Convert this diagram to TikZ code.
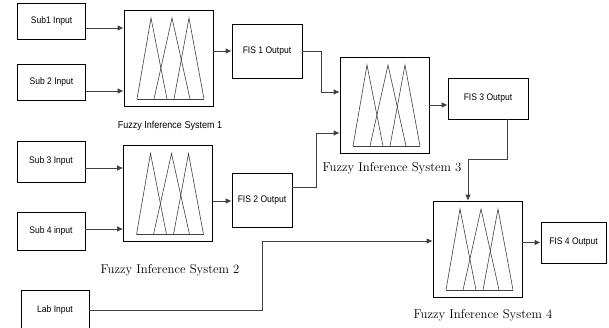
\documentclass[tikz,border=0pt]{standalone}
\usepackage{fontspec}
\newfontfamily\boxfont[FakeStretch=0.9]{Liberation Sans}
\usepackage{tikz}
\usetikzlibrary{calc,arrows.meta}

\begin{document}
\begin{tikzpicture}[x=1pt, y=-1pt,
    inbox/.style={rectangle, draw, line width=0.7pt, minimum width=68pt,
                minimum height=38pt, align=center, font=\boxfont\fontsize{9.5}{10}\selectfont},
    outbox/.style={inbox, minimum height=41pt},
    fisbox/.style={rectangle, draw, line width=0.7pt, minimum width=89pt, minimum height=96pt,
                path picture={
                  \foreach \a/\l/\r in {-17.5/-31.5/-1.5, 3.5/-14.5/21.5, 20.5/5.5/35.5}
                    \draw[black!75, line width=0.6pt]
                      ([shift={(\l,41)}]path picture bounding box.center)
                      -- ([shift={(\a,-40)}]path picture bounding box.center)
                      -- ([shift={(\r,41)}]path picture bounding box.center);
                  \draw[black!75, line width=0.6pt]
                    ([shift={(-31.5,41)}]path picture bounding box.center)
                    -- ([shift={(35.5,41)}]path picture bounding box.center);
                }},
    caption/.style={font=\fontsize{12.75}{13}\selectfont},
    arrow/.style={-{Latex[length=6pt,width=5.5pt]}, line width=0.9pt, black!75}]

\clip (0,0) rectangle (609,327);

% Inputs
\node[inbox, minimum height=36pt] (sub1) at (51.5,21) {Sub1 Input};
\node[inbox, minimum height=36pt] (sub2) at (51.5,82) {Sub 2 Input};
\node[inbox, minimum height=41pt] (sub3) at (51,161.5) {Sub 3 Input};
\node[inbox] (sub4) at (51,231) {Sub 4 input};
\node[inbox, minimum height=40pt] (lab) at (55,310) {Lab Input};

% Fuzzy systems
\node[fisbox] (fis1) at (168.5,58) {};
\node[fisbox] (fis2) at (168,193.5) {};
\node[fisbox] (fis3) at (384.5,105) {};
\node[fisbox] (fis4) at (477.5,249) {};

\node[font=\boxfont\fontsize{10}{11}\selectfont] (cap1) at (170,126) {Fuzzy Inference System 1};
\node[caption] (cap2) at (170,270) {Fuzzy Inference System 2};
\node[caption] (cap3) at (392,168) {Fuzzy Inference System 3};
\node[caption] (cap4) at (483,315) {Fuzzy Inference System 4};

% Outputs
\node[outbox, minimum width=70pt, minimum height=54pt] (out1) at (267,51) {FIS 1 Output};
\node[outbox, minimum width=60pt, minimum height=54pt] (out2) at (262,200) {FIS 2 Output};
\node[outbox, minimum width=80pt] (out3) at (488,98.5) {FIS 3 Output};
\node[outbox, minimum width=65pt] (out4) at (573.5,242.5) {FIS 4 Output};

% Arrows
\draw[arrow] ([yshift=-7pt]sub1.east) coordinate (s1) -- (s1 -| fis1.west);
\draw[arrow] ([yshift=-9pt]sub2.east) coordinate (s2) -- (s2 -| fis1.west);
\draw[arrow] ([yshift=-6.5pt]sub3.east) coordinate (s3) -- (s3 -| fis2.west);
\draw[arrow] ([yshift=2pt]sub4.east) coordinate (s4) -- (s4 -| fis2.west);
\draw[arrow] (out1.west -| fis1.east) -- (out1.west);
\draw[arrow] ([yshift=-1pt]out2.west -| fis2.east) -- ([yshift=-1pt]out2.west);
\draw[arrow, line width=0.7pt] (out1.east) -- ++(19,0) |- ([yshift=13pt]fis3.west);
\draw[arrow, line width=0.7pt] ([yshift=13pt]out2.east) -- ++(24,0) |- ([yshift=-28pt]fis3.west);
\draw[arrow] (fis3.east) -- (fis3.east -| out3.west);
\draw[arrow, line width=0.7pt] ([xshift=19pt]out3.south) -- ++(0,40) -| ([xshift=-9.5pt]fis4.north);
\draw[arrow, line width=0.7pt] (lab.east) -- ++(173,0) |- ([yshift=8pt]fis4.west);
\draw[arrow] (out4.west -| fis4.east) -- (out4.west);
\end{tikzpicture}
\end{document}
